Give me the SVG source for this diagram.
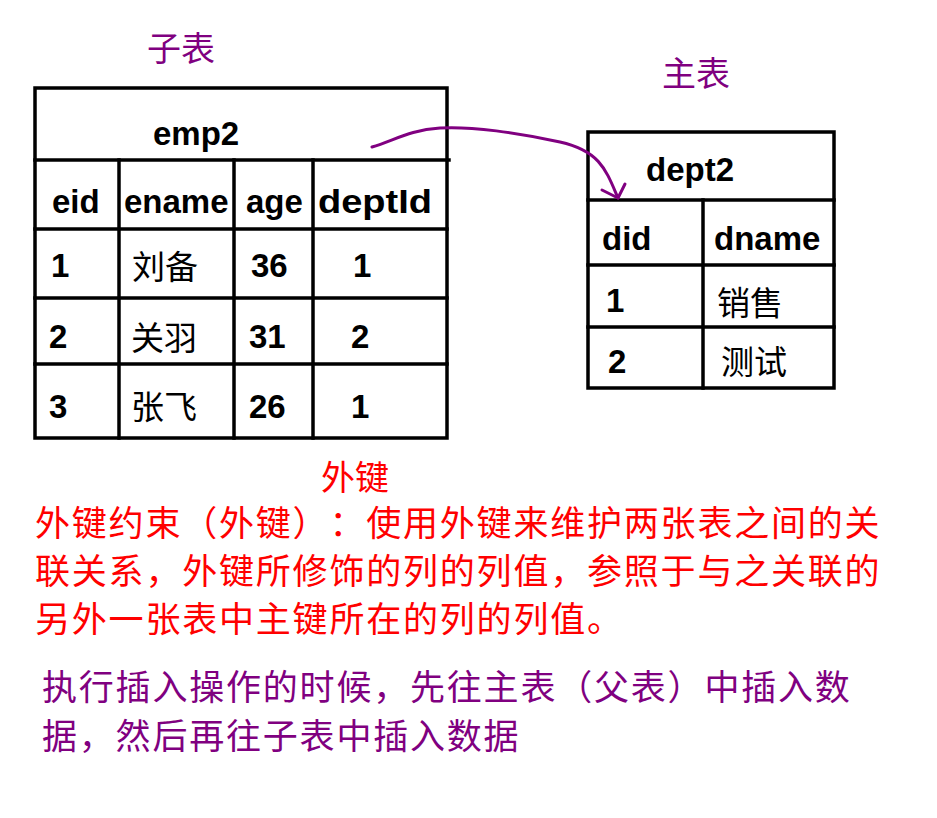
<svg xmlns="http://www.w3.org/2000/svg" width="937" height="818" viewBox="0 0 937 818">
<style>
.bg{fill:#fff}
.grid{stroke:#000;stroke-width:3.5;fill:none;stroke-linecap:square}
.t{font-family:"Liberation Sans",Arial,sans-serif;font-weight:bold;font-size:33px;fill:#000}
.cn{font-family:"Noto Sans CJK SC","Noto Sans CJK TC",sans-serif;font-size:33px;fill:#000}
.lbl{font-family:"Noto Sans CJK SC","Noto Sans CJK TC",sans-serif;font-size:34px}
.purple{fill:#800080}
.red{fill:#ff0000}
.para{font-family:"Noto Sans CJK SC","Noto Sans CJK TC",sans-serif;font-size:35px;letter-spacing:1.8px}
.fixed{font-family:"Noto Sans CJK SC","Noto Sans CJK TC",sans-serif;font-size:35px}
.conn{stroke:#800080;stroke-width:3;fill:none;stroke-linecap:round;stroke-linejoin:round}
</style>
<rect class="bg" x="0" y="0" width="937" height="818"/>

<g id="label-child">
<text class="lbl purple" x="147" y="61">子表</text>
</g>
<g id="label-parent">
<text class="lbl purple" x="662" y="86">主表</text>
</g>

<g id="emp2">
<rect class="grid" x="35" y="88" width="412" height="350"/>
<line class="grid" x1="35" y1="160" x2="449" y2="160"/>
<line class="grid" x1="35" y1="229" x2="447" y2="229"/>
<line class="grid" x1="35" y1="298" x2="447" y2="298"/>
<line class="grid" x1="35" y1="364" x2="447" y2="364"/>
<line class="grid" x1="119" y1="160" x2="119" y2="438"/>
<line class="grid" x1="234" y1="160" x2="234" y2="438"/>
<line class="grid" x1="313" y1="160" x2="313" y2="438"/>
<text class="t" x="153" y="145">emp2</text>
<text class="t" x="52" y="213">eid</text>
<text class="t" x="124" y="213">ename</text>
<text class="t" x="246" y="213">age</text>
<text class="t" x="318" y="213" textLength="114" lengthAdjust="spacingAndGlyphs">deptId</text>
<text class="t" x="51" y="277">1</text>
<text class="cn" x="132" y="279">刘备</text>
<text class="t" x="251" y="277">36</text>
<text class="t" x="353" y="277">1</text>
<text class="t" x="49" y="348">2</text>
<text class="cn" x="131" y="350">关羽</text>
<text class="t" x="249" y="348">31</text>
<text class="t" x="351" y="348">2</text>
<text class="t" x="49" y="418">3</text>
<text class="cn" x="131" y="419">张飞</text>
<text class="t" x="249" y="418">26</text>
<text class="t" x="351" y="418">1</text>
</g>

<g id="dept2">
<rect class="grid" x="588" y="132" width="246" height="256"/>
<line class="grid" x1="588" y1="200" x2="834" y2="200"/>
<line class="grid" x1="588" y1="265" x2="834" y2="265"/>
<line class="grid" x1="588" y1="327" x2="834" y2="327"/>
<line class="grid" x1="703" y1="200" x2="703" y2="388"/>
<text class="t" x="646" y="181">dept2</text>
<text class="t" x="602" y="250">did</text>
<text class="t" x="714" y="250">dname</text>
<text class="t" x="606" y="312">1</text>
<text class="cn" x="717" y="315">销售</text>
<text class="t" x="608" y="373">2</text>
<text class="cn" x="721" y="374">测试</text>
</g>

<g id="label-fk">
<text class="lbl red" x="321" y="490">外键</text>
</g>

<g id="connectors">
<path class="conn" d="M372,147 C395,140 410,130 440,128 S520,133 560,142 S606,170 618,198"/>
<polyline class="conn" points="602,190 618,198 625,184"/>
</g>

<g id="note-red">
<text class="fixed red" y="536" x="35 71.8 108.6 145.4 182.2 219 255.8 292.6 329.4 366.2 403 439.8 476.6 513.4 550.2 587 623.8 660.6 697.4 734.2 771 807.8 844.6">外键约束（外键）：使用外键来维护两张表之间的关</text>
<text class="para red" x="35" y="584">联关系，外键所修饰的列的列值，参照于与之关联的</text>
<text class="para red" x="35" y="632">另外一张表中主键所在的列的列值。</text>
</g>

<g id="note-purple">
<text class="para purple" x="42" y="700">执行插入操作的时候，先往主表（父表）中插入数</text>
<text class="para purple" x="42" y="749">据，然后再往子表中插入数据</text>
</g>
</svg>
